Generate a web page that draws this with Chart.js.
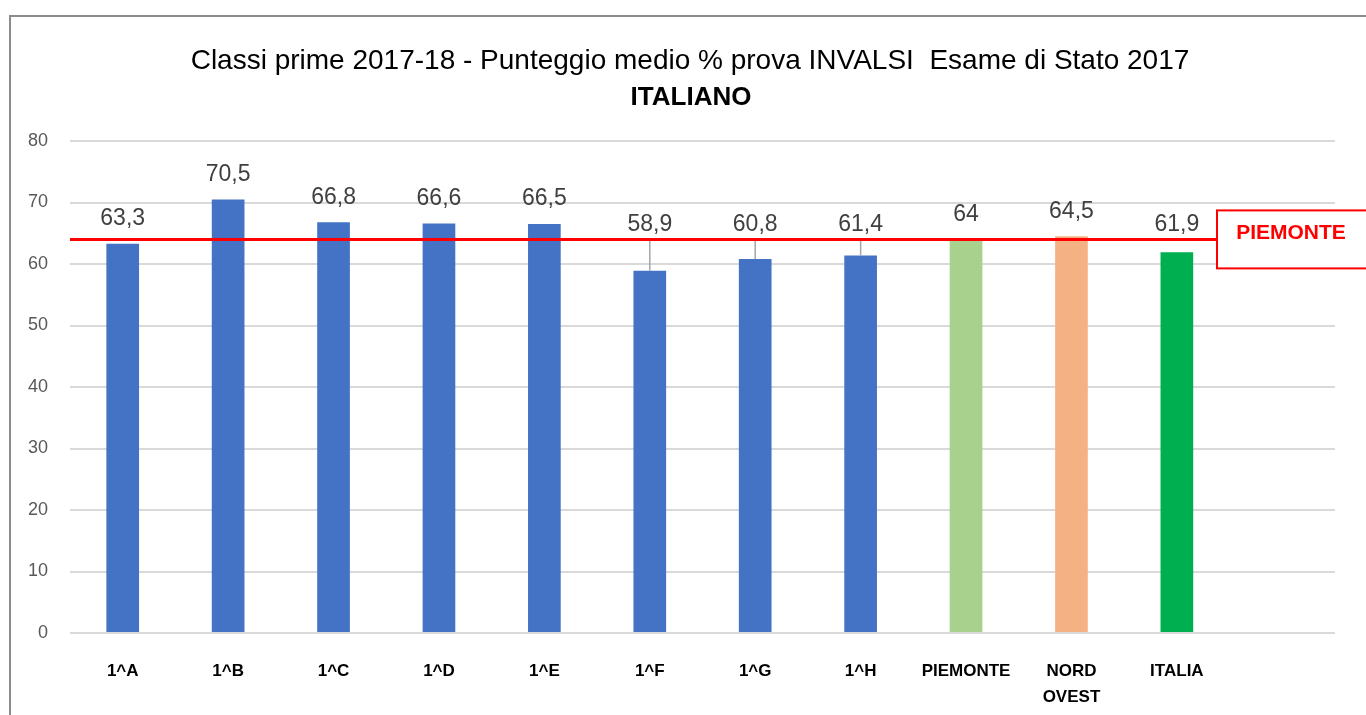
<!DOCTYPE html>
<html>
<head>
<meta charset="utf-8">
<script src="https://cdn.jsdelivr.net/npm/chart.js@4.4.1/dist/chart.umd.min.js"></script>
<style>
  html, body { margin: 0; padding: 0; background: #fff; overflow: hidden; }
  #frame { position: absolute; left: 9px; top: 15px; width: 1400px; height: 750px; border: 2px solid #8c8c8c; }
  #wrap { position: absolute; left: 0; top: 0; width: 1366px; height: 715px; }
</style>
</head>
<body>
<div id="frame"></div>
<div id="wrap"><canvas id="invalsiChart" width="1366" height="715"></canvas></div>
<script>
const classi = ['1^A', '1^B', '1^C', '1^D', '1^E', '1^F', '1^G', '1^H', 'PIEMONTE', ['NORD', 'OVEST'], 'ITALIA', ''];
const punteggi = [63.3, 70.5, 66.8, 66.6, 66.5, 58.9, 60.8, 61.4, 64, 64.5, 61.9, null];
const coloriBarre = ['#4472C4', '#4472C4', '#4472C4', '#4472C4', '#4472C4', '#4472C4', '#4472C4', '#4472C4', '#A9D18E', '#F4B183', '#00B050', '#4472C4'];
const rifPiemonte = 64;
const titolo = 'Classi prime 2017-18 - Punteggio medio % prova INVALSI  Esame di Stato 2017';
const sottotitolo = 'ITALIANO';
const etichettaRif = 'PIEMONTE';

const fmt = v => v.toString().replace('.', ',');

// titolo su due righe
const titoloPlugin = {
    id: 'titolo',
    afterDraw(chart) {
        const ctx = chart.ctx;
        ctx.save();
        ctx.fillStyle = '#000';
        ctx.textAlign = 'center';
        ctx.textBaseline = 'middle';
        ctx.font = '28px "Liberation Sans"';
        ctx.fillText(titolo, 690, 61);
        ctx.font = 'bold 26px "Liberation Sans"';
        ctx.fillText(sottotitolo, 691, 98);
        ctx.restore();
    }
};

// linea rossa di riferimento + riquadro
const rifPlugin = {
    id: 'rifPiemonte',
    afterDatasetsDraw(chart) {
        const ctx = chart.ctx;
        const area = chart.chartArea;
        const y = chart.scales.y.getPixelForValue(rifPiemonte);
        const boxLeft = area.right - 118;
        ctx.save();
        ctx.strokeStyle = '#FF0000';
        ctx.lineWidth = 3;
        ctx.beginPath();
        ctx.moveTo(area.left, y);
        ctx.lineTo(boxLeft, y);
        ctx.stroke();
        ctx.fillStyle = '#fff';
        ctx.lineWidth = 2;
        ctx.fillRect(boxLeft, y - 29, 200, 58);
        ctx.strokeRect(boxLeft, y - 29, 200, 58);
        ctx.fillStyle = '#FF0000';
        ctx.font = 'bold 21px "Liberation Sans"';
        ctx.textAlign = 'center';
        ctx.textBaseline = 'middle';
        ctx.fillText(etichettaRif, boxLeft + 74, y - 6);
        ctx.restore();
    }
};

// etichette valori, spostate sopra la linea quando la toccano
const etichettePlugin = {
    id: 'etichette',
    afterDatasetsDraw(chart) {
        const ctx = chart.ctx;
        const yLine = chart.scales.y.getPixelForValue(rifPiemonte);
        const meta = chart.getDatasetMeta(0);
        ctx.save();
        ctx.font = '23px "Liberation Sans"';
        ctx.textAlign = 'center';
        ctx.textBaseline = 'middle';
        meta.data.forEach((bar, i) => {
            const v = punteggi[i];
            if (v === null) return;
            const ly = Math.min(bar.y - 25, yLine - 15);
            if (bar.y - ly > 30) {
                ctx.strokeStyle = '#a6a6a6';
                ctx.lineWidth = 1.5;
                ctx.beginPath();
                ctx.moveTo(bar.x, yLine);
                ctx.lineTo(bar.x, bar.y);
                ctx.stroke();
            }
            ctx.fillStyle = '#404040';
            ctx.fillText(fmt(v), bar.x, ly);
        });
        ctx.restore();
    }
};

const ctx = document.getElementById('invalsiChart').getContext('2d');
new Chart(ctx, {
    type: 'bar',
    data: {
        labels: classi,
        datasets: [{
            data: punteggi,
            backgroundColor: coloriBarre,
            barPercentage: 0.31,
            categoryPercentage: 1
        }]
    },
    options: {
        responsive: false,
        animation: false,
        layout: { padding: { top: 141, left: 10, right: 31, bottom: 0 } },
        plugins: {
            legend: { display: false },
            title: { display: false },
            tooltip: { enabled: false }
        },
        scales: {
            x: {
                grid: { display: false },
                border: { display: false },
                ticks: {
                    color: '#000',
                    font: { family: '"Liberation Sans"', size: 17, weight: 'bold', lineHeight: 1.55 },
                    padding: 17,
                    maxRotation: 0,
                    autoSkip: false
                },
                afterFit(scale) { scale.height = 82; }
            },
            y: {
                min: 0,
                max: 80,
                ticks: {
                    stepSize: 10,
                    color: '#595959',
                    font: { family: '"Liberation Sans"', size: 18 },
                    padding: 22
                },
                grid: { color: '#d9d9d9', lineWidth: 2, drawTicks: false },
                border: { display: false },
                afterFit(scale) { scale.width = 60; }
            }
        }
    },
    plugins: [titoloPlugin, etichettePlugin, rifPlugin]
});
</script>
</body>
</html>
